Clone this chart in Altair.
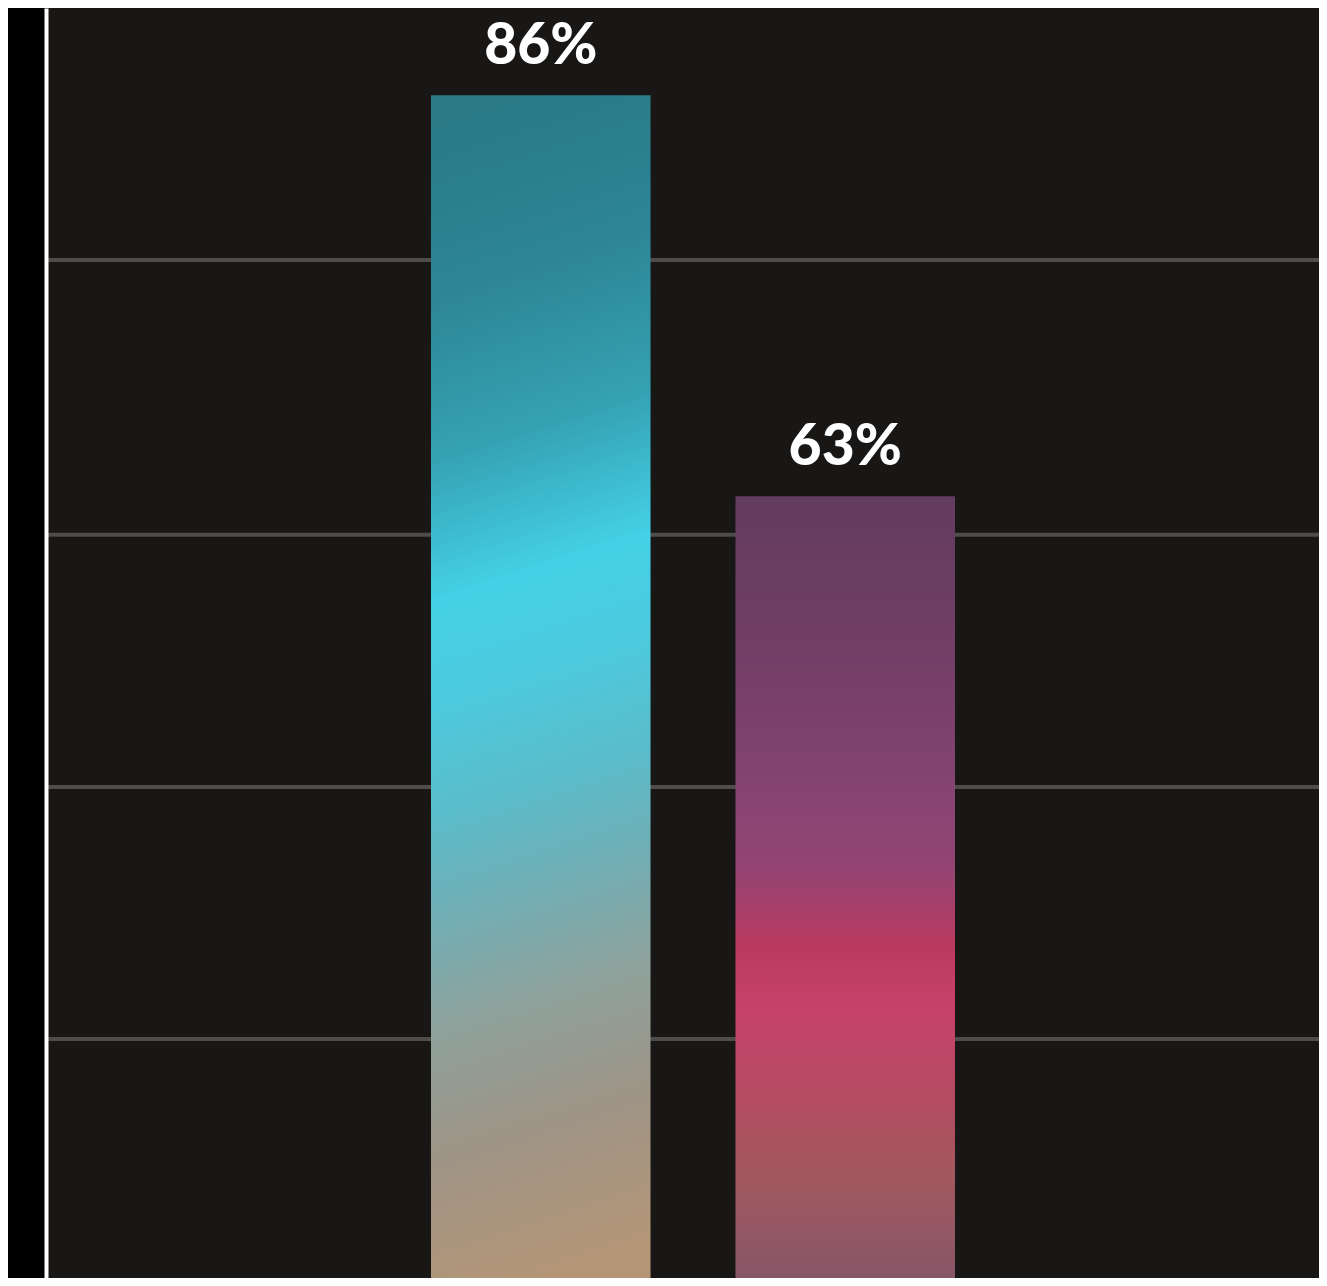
import altair as alt
import pandas as pd

categories = ["A", "B"]
values = [86, 63]
labels = ["86%", "63%"]
grid_values = [31.86, 46.31, 60.79, 76.54]

df = pd.DataFrame({"cat": categories, "value": values, "label": labels})
grid_df = pd.DataFrame({"g": grid_values})

grad1 = alt.Gradient(
    gradient="linear", x1=0.47, y1=0, x2=0.53, y2=1,
    stops=[
        alt.GradientStop(color="#2a7a88", offset=0.0),
        alt.GradientStop(color="#2d8594", offset=0.14),
        alt.GradientStop(color="#35a2b3", offset=0.28),
        alt.GradientStop(color="#44d0e6", offset=0.40),
        alt.GradientStop(color="#4ccbdf", offset=0.48),
        alt.GradientStop(color="#5abcca", offset=0.58),
        alt.GradientStop(color="#72aeb4", offset=0.67),
        alt.GradientStop(color="#8ea29c", offset=0.76),
        alt.GradientStop(color="#9e9486", offset=0.87),
        alt.GradientStop(color="#b49676", offset=1.0),
    ],
)
grad2 = alt.Gradient(
    gradient="linear", x1=0.5, y1=0, x2=0.5, y2=1,
    stops=[
        alt.GradientStop(color="#633c5f", offset=0.0),
        alt.GradientStop(color="#723e66", offset=0.2),
        alt.GradientStop(color="#864474", offset=0.38),
        alt.GradientStop(color="#944472", offset=0.48),
        alt.GradientStop(color="#bc3a60", offset=0.58),
        alt.GradientStop(color="#c6426a", offset=0.66),
        alt.GradientStop(color="#b44c62", offset=0.77),
        alt.GradientStop(color="#a2585e", offset=0.87),
        alt.GradientStop(color="#885668", offset=1.0),
    ],
)

x_enc = alt.X("cat:N", axis=None,
              scale=alt.Scale(range=[385, 909], paddingInner=0.279, paddingOuter=0))
y_scale = alt.Scale(domain=[18.15, 91.0], zero=False, nice=False, clamp=True)
y_enc = alt.Y("value:Q", scale=y_scale,
              axis=alt.Axis(labels=False, ticks=False, title=None, grid=False,
                            domain=True, domainColor="#ffffff", domainWidth=4,
                            zindex=1))

grid = alt.Chart(grid_df).mark_rule(color="#4e4d4b", strokeWidth=4).encode(
    y=alt.Y("g:Q", scale=y_scale))

base = alt.Chart(df)
bar1 = base.transform_filter(alt.datum.cat == "A").mark_bar(color=grad1).encode(x=x_enc, y=y_enc)
bar2 = base.transform_filter(alt.datum.cat == "B").mark_bar(color=grad2).encode(x=x_enc, y=y_enc)
text = base.mark_text(font="Lato", fontWeight=900, fontSize=57, color="#ffffff",
                      baseline="alphabetic", dy=-31).encode(
    x=x_enc, y=alt.Y("value:Q", scale=y_scale), text="label:N")

chart = alt.layer(grid, bar1, bar2, text).properties(
    width=1273, height=1270,
    padding={"left": 38, "top": 0, "right": 0, "bottom": 0},
    autosize=alt.AutoSizeParams(type="none"),
    background="#000000",
).configure_view(fill="#181716", stroke=None)

chart.save("out.html", embed_options={"renderer": "svg", "actions": False})
